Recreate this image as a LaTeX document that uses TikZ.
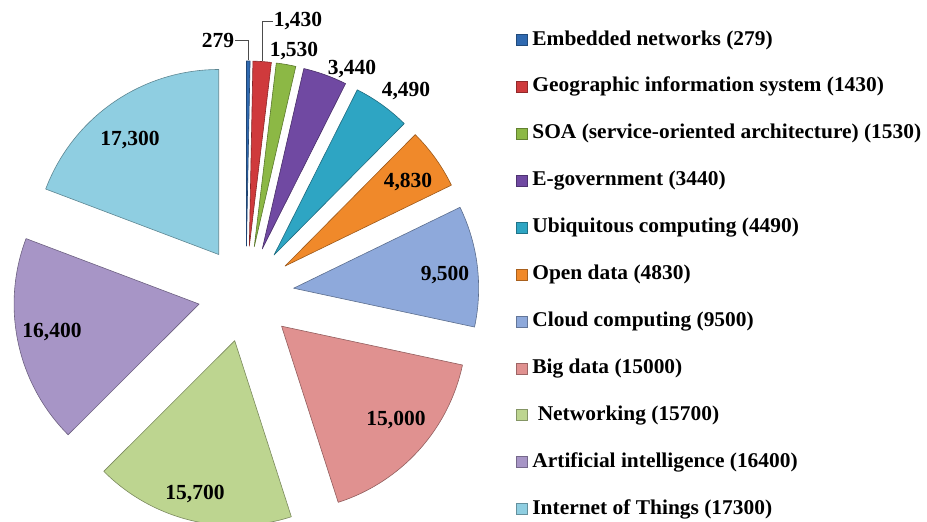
\documentclass[tikz,border=0pt]{standalone}
\usepackage{fontspec}
\setmainfont{Liberation Serif}
\newfontfamily\legfont[FakeStretch=1.02]{Liberation Serif}
\usepackage{tikz}
\usetikzlibrary{positioning, calc}
\definecolor{cEmb}{HTML}{2F69B0}
\definecolor{cGis}{HTML}{CF3A3C}
\definecolor{cSoa}{HTML}{8CB845}
\definecolor{cEgov}{HTML}{7049A2}
\definecolor{cUbi}{HTML}{2EA5C3}
\definecolor{cOpen}{HTML}{F0892A}
\definecolor{cCloud}{HTML}{8EA9DB}
\definecolor{cBig}{HTML}{E09190}
\definecolor{cNet}{HTML}{BDD590}
\definecolor{cAI}{HTML}{A795C6}
\definecolor{cIoT}{HTML}{8FCEE1}

\tikzset{
  slice/.style={draw=#1!65!black, fill=#1, line width=0.6pt, line join=round},
  val/.style={font=\fontsize{21.5}{24}\selectfont\bfseries, inner sep=1pt},
  leader/.style={draw=black!70, line width=0.7pt},
  legbox/.style={draw=#1!70!black, fill=#1, minimum size=11pt, inner sep=0pt},
  legtext/.style={font=\legfont\fontsize{21}{24}\selectfont\bfseries, inner sep=0pt}
}

\begin{document}
\begin{tikzpicture}[x=1pt,y=1pt]
	\useasboundingbox (0,0) rectangle (927,522);
	\coordinate (center) at (246,228);

	%---------------------------------------------------------------- slices
	\draw[slice=cEmb] ([shift={(89.44:48)}]center) -- ++(90:185)
		arc[start angle=90, end angle=88.883, radius=185] -- cycle;
	\draw[slice=cGis] ([shift={(86.02:48)}]center) -- ++(88.883:185)
		arc[start angle=88.883, end angle=83.156, radius=185] -- cycle;
	\draw[slice=cSoa] ([shift={(80.09:48)}]center) -- ++(83.156:185)
		arc[start angle=83.156, end angle=77.029, radius=185] -- cycle;
	\draw[slice=cEgov] ([shift={(70.14:48)}]center) -- ++(77.029:185)
		arc[start angle=77.029, end angle=63.254, radius=185] -- cycle;
	\draw[slice=cUbi] ([shift={(54.26:48)}]center) -- ++(63.254:185)
		arc[start angle=63.254, end angle=45.274, radius=185] -- cycle;
	\draw[slice=cOpen] ([shift={(35.60:48)}]center) -- ++(45.274:185)
		arc[start angle=45.274, end angle=25.932, radius=185] -- cycle;
	\draw[slice=cCloud] ([shift={(6.91:48)}]center) -- ++(25.932:185)
		arc[start angle=25.932, end angle=-12.111, radius=185] -- cycle;
	\draw[slice=cBig] ([shift={(-42.14:48)}]center) -- ++(-12.111:185)
		arc[start angle=-12.111, end angle=-72.178, radius=185] -- cycle;
	\draw[slice=cNet] ([shift={(-103.61:48)}]center) -- ++(-72.178:185)
		arc[start angle=-72.178, end angle=-135.049, radius=185] -- cycle;
	\draw[slice=cAI] ([shift={(-167.89:48)}]center) -- ++(-135.049:185)
		arc[start angle=-135.049, end angle=-200.723, radius=185] -- cycle;
	\draw[slice=cIoT] ([shift={(-235.36:48)}]center) -- ++(-200.723:185)
		arc[start angle=-200.723, end angle=-270, radius=185] -- cycle;

	%---------------------------------------------------------------- values
	\node(l279) [val] at (218,482) {279};
	\node(l1430) [val] at (298,501) {1,430};
	\node(l1530) [val] at (294,471) {1,530};
	\node(l3440) [val] at (352,453) {3,440};
	\node(l4490) [val] at (406,431) {4,490};
	\node(l4830) [val] at (408,340) {4,830};
	\node(l9500) [val] at (445,247) {9,500};
	\node(l15000) [val] at (396,102) {15,000};
	\node(l15700) [val] at (195,28) {15,700};
	\node(l16400) [val] at (52,190) {16,400};
	\node(l17300) [val] at (130,382) {17,300};

	\coordinate (p279) at (248,462);
	\coordinate (p1430) at (262,461);
	\draw[leader] (l279.east) -| (p279);
	\draw[leader] (l1430.west) -| (p1430);

	%---------------------------------------------------------------- legend
	\node(boxEmb) [legbox=cEmb] at (522,482) {};
	\node(txtEmb) [legtext, right=4.5pt of boxEmb] {Embedded networks (279)};
	\node(boxGis) [legbox=cGis, below=35.5pt of boxEmb] {};
	\node(txtGis) [legtext, right=4.5pt of boxGis] {Geographic information system (1430)};
	\node(boxSoa) [legbox=cSoa, below=35.5pt of boxGis] {};
	\node(txtSoa) [legtext, right=4.5pt of boxSoa] {SOA (service-oriented architecture) (1530)};
	\node(boxEgov) [legbox=cEgov, below=35.5pt of boxSoa] {};
	\node(txtEgov) [legtext, right=4.5pt of boxEgov] {E-government (3440)};
	\node(boxUbi) [legbox=cUbi, below=35.5pt of boxEgov] {};
	\node(txtUbi) [legtext, right=4.5pt of boxUbi] {Ubiquitous computing (4490)};
	\node(boxOpen) [legbox=cOpen, below=35.5pt of boxUbi] {};
	\node(txtOpen) [legtext, right=4.5pt of boxOpen] {Open data (4830)};
	\node(boxCloud) [legbox=cCloud, below=35.5pt of boxOpen] {};
	\node(txtCloud) [legtext, right=4.5pt of boxCloud] {Cloud computing (9500)};
	\node(boxBig) [legbox=cBig, below=35.5pt of boxCloud] {};
	\node(txtBig) [legtext, right=4.5pt of boxBig] {Big data (15000)};
	\node(boxNet) [legbox=cNet, below=35.5pt of boxBig] {};
	\node(txtNet) [legtext, right=4.5pt of boxNet] {\ Networking (15700)};
	\node(boxAI) [legbox=cAI, below=35.5pt of boxNet] {};
	\node(txtAI) [legtext, right=4.5pt of boxAI] {Artificial intelligence (16400)};
	\node(boxIoT) [legbox=cIoT, below=35.5pt of boxAI] {};
	\node(txtIoT) [legtext, right=4.5pt of boxIoT] {Internet of Things (17300)};

\end{tikzpicture}
\end{document}
